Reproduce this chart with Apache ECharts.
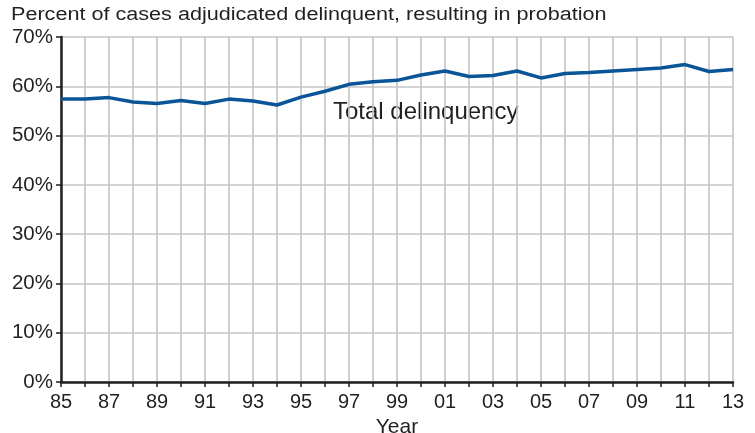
<!DOCTYPE html>
<html>
<head>
<meta charset="utf-8">
<script src="https://cdn.jsdelivr.net/npm/echarts@6/dist/echarts.min.js"></script>
<style>
  html, body { margin: 0; padding: 0; background: #fff; }
  #chart { width: 755px; height: 433px; }
</style>
</head>
<body>
<div id="chart"></div>
<script>
// Share of adjudicated delinquency cases that result in probation, 1985–2013
const years = ['85','86','87','88','89','90','91','92','93','94','95','96','97','98','99',
               '00','01','02','03','04','05','06','07','08','09','10','11','12','13'];
const probationPct = [57.4, 57.4, 57.7, 56.8, 56.5, 57.1, 56.5, 57.4, 57.0, 56.2,
                      57.8, 59.0, 60.4, 60.9, 61.2, 62.3, 63.1, 62.0, 62.2, 63.1,
                      61.7, 62.6, 62.8, 63.1, 63.4, 63.7, 64.4, 63.0, 63.4];
const yTicks = [0, 10, 20, 30, 40, 50, 60, 70];

const FONT = '"Liberation Sans", Arial, Helvetica, sans-serif';
const TEXT = '#231f20';

const chart = echarts.init(document.getElementById('chart'), null, { renderer: 'canvas' });

chart.setOption({
  animation: false,
  backgroundColor: '#fff',
  grid: { left: 61, right: 22, top: 37, bottom: 51, outerBoundsMode: 'none', containLabel: false },
  xAxis: {
    type: 'category',
    data: years,
    boundaryGap: false,
    name: 'Year',
    nameLocation: 'middle',
    nameGap: 31,
    nameTextStyle: { fontFamily: FONT, fontSize: 21, color: TEXT, verticalAlign: 'top', padding: 0 },
    axisLine: { lineStyle: { color: '#231f20', width: 2.5 } },
    axisTick: { show: true, interval: 0, length: 5, lineStyle: { color: '#231f20', width: 1.5 } },
    axisLabel: { interval: 1, margin: 10, fontFamily: FONT, fontSize: 20, color: TEXT },
    splitLine: { show: true, interval: 0, lineStyle: { color: '#c4c4c4', width: 1.6 } }
  },
  yAxis: {
    type: 'value',
    min: yTicks[0],
    max: yTicks[yTicks.length - 1],
    interval: 10,
    axisLine: { show: true, lineStyle: { color: '#231f20', width: 2.5 } },
    axisTick: { show: true, length: 5, lineStyle: { color: '#231f20', width: 1.5 } },
    axisLabel: { margin: 8, fontFamily: FONT, fontSize: 20.5, color: TEXT, formatter: '{value}%' },
    splitLine: { show: true, lineStyle: { color: '#c4c4c4', width: 1.6 } }
  },
  graphic: [
    {
      // chart heading, drawn with slightly loose (widened) lettering
      type: 'text',
      x: 11,
      y: 6,
      scaleX: 1.2,
      style: {
        text: 'Percent of cases adjudicated delinquent, resulting in probation',
        font: '18px ' + FONT,
        fill: TEXT
      }
    },
    {
      type: 'text',
      x: 333,
      y: 100,
      style: { text: 'Total delinquency', font: '24px ' + FONT, fill: TEXT }
    }
  ],
  series: [{
    type: 'line',
    data: probationPct,
    symbol: 'none',
    lineStyle: { color: '#0a5597', width: 3.5 },
    z: 5
  }]
});
</script>
</body>
</html>
